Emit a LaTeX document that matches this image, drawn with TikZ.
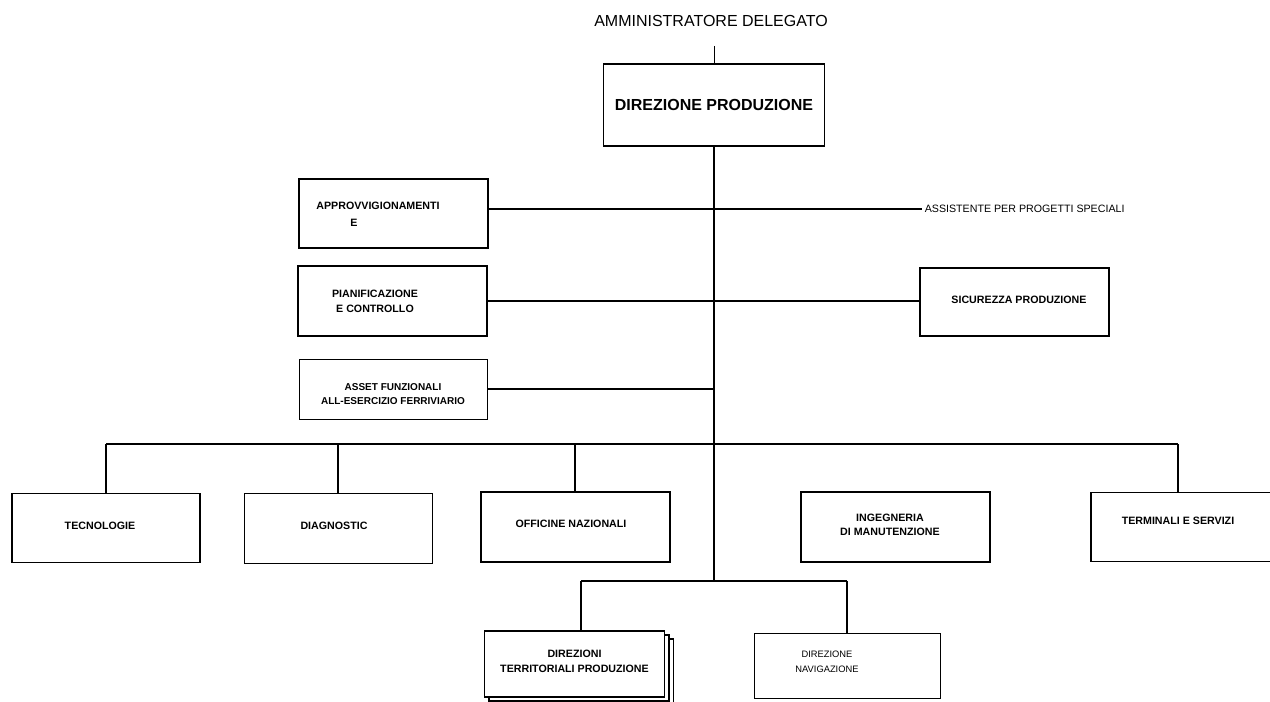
\documentclass[tikz,border=0pt]{standalone}
\usepackage{fontspec}
\setmainfont{Liberation Sans}
\usepackage{tikz}
\usetikzlibrary{shadows,calc}

\tikzset{
    unit/.style={draw=black, fill=white, line width=1.5pt, inner sep=1pt,
                 minimum width=141.75pt, minimum height=51.75pt, align=center,
                 font=\fontsize{8}{11}\selectfont\bfseries},
    unitmid/.style={unit, line width=1.1pt},
    unitthin/.style={unit, line width=0.75pt},
    link/.style={draw=black, line width=1.35pt},
    lift/.style={text depth=#1}
}

\begin{document}
\begin{tikzpicture}[x=0.75pt, y=-0.75pt]
    \useasboundingbox (0,0) rectangle (1270,702);
    \node [font=\fontsize{12}{14}\selectfont] (admin) at (711,21) {AMMINISTRATORE DELEGATO};
    \coordinate (admin-stub) at (714,46);
    \node [unit, line width=1pt, minimum width=165.75pt, minimum height=61.5pt,
           font=\fontsize{12}{14}\selectfont\bfseries] (dirprod) at (714,105)
            {DIREZIONE PRODUZIONE};

    \node [unit, align=left, font=\fontsize{8}{12.75}\selectfont\bfseries] (approv) at (393,214)
            {APPROVVIGIONAMENTI\hspace*{22.5pt}\\ \hspace*{25.5pt}E};
    \node [anchor=west, inner sep=0pt, font=\fontsize{8}{10}\selectfont] (assist) at (924.5,209)
            {ASSISTENTE PER PROGETTI SPECIALI};
    \node [unit] (pianif) at (392,301)
            {PIANIFICAZIONE\hspace*{25.5pt}\\E CONTROLLO\hspace*{25.5pt}};
    \node [unit, minimum height=51pt, lift=4pt] (sicur) at (1014,302)
            {\hspace*{7.5pt}SICUREZZA PRODUZIONE};
    \node [unitthin, minimum width=141pt, minimum height=45pt,
           font=\fontsize{7.5}{10.5}\selectfont\bfseries] (asset) at (393,389)
            {\rule{0pt}{12.9pt}ASSET FUNZIONALI\\ALL-ESERCIZIO FERRIVIARIO};

    \coordinate (bus) at (714,444);
    \coordinate (lowbus) at (714,581);

    \node [unitmid, minimum width=141pt, lift=3pt] (tecno) at (106,528)
            {TECNOLOGIE\hspace*{9pt}};
    \node [unitthin, minimum width=141pt, minimum height=52.5pt, lift=3pt] (diagn) at (338,528)
            {DIAGNOSTIC\hspace*{6pt}};
    \node [unit, minimum height=52.5pt, lift=5pt] (offic) at (575,527)
            {OFFICINE NAZIONALI\hspace*{6pt}};
    \node [unit, minimum height=52.5pt] (ingegn) at (895,527)
            {INGEGNERIA\hspace*{7.5pt}\\DI MANUTENZIONE\hspace*{7.5pt}\rule[-3.5pt]{0pt}{3.5pt}};
    \node [unitmid, minimum width=150pt, minimum height=52pt, lift=9pt] (termin) at (1191,527)
            {TERMINALI E SERVIZI\hspace*{19.5pt}};
    \coordinate (termin-top) at ($(termin.north)+(-13,0)$);

    \node [unitthin, line width=0.9pt, minimum width=135pt, minimum height=49.5pt,
           double copy shadow={draw=black, fill=white, line width=0.9pt,
                               shadow xshift=3.4pt, shadow yshift=-3pt}] (dirterr) at (574.5,664)
            {DIREZIONI\\TERRITORIALI PRODUZIONE\rule[-4.5pt]{0pt}{4.5pt}};
    \coordinate (dirterr-top) at ($(dirterr.north)+(6.5,0)$);
    \node [unitthin, minimum width=139.5pt, minimum height=48.75pt,
           font=\fontsize{7}{11}\selectfont] (navig) at (847,666)
            {DIREZIONE\hspace*{30pt}\\NAVIGAZIONE\hspace*{30pt}\rule[-6.8pt]{0pt}{6.8pt}};

    \draw [link, line width=0.75pt] (admin-stub) -- (dirprod.north);
    \draw [link, line width=1.5pt] (dirprod.south) -- (lowbus);
    \draw [link] (approv.east |- assist.west) -- ($(assist.west)+(-3,0)$);
    \draw [link] (pianif.east) -- (pianif.east -| sicur.west);
    \draw [link] (asset.east) -- (asset.east -| lowbus);

    \draw [link] (tecno.north |- bus) -- (termin-top |- bus);
    \draw [link] (tecno.north |- bus) -- (tecno.north);
    \draw [link] (diagn.north |- bus) -- (diagn.north);
    \draw [link] (offic.north |- bus) -- (offic.north);
    \draw [link] ($(ingegn.north)+(-2.5,0)$ |- bus) -- ($(ingegn.north)+(-2.5,0)$);
    \draw [link] (termin-top |- bus) -- (termin-top);

    \draw [link] (dirterr-top |- lowbus) -- (navig.north |- lowbus);
    \draw [link] (dirterr-top |- lowbus) -- (dirterr-top);
    \draw [link] (navig.north |- lowbus) -- (navig.north);
\end{tikzpicture}
\end{document}
